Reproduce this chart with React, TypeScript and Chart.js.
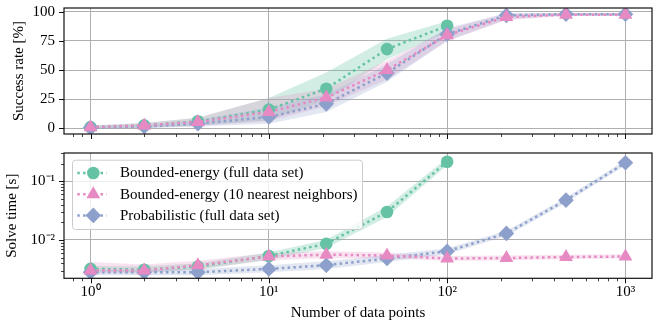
import React, { useEffect, useRef } from 'react';
import { Chart, registerables } from 'chart.js';

Chart.register(...registerables);

// ---------------- data ----------------
const xValues = [1, 2, 4, 10, 21, 46, 100, 215, 464, 1000];

const seriesNames = [
  'Bounded-energy (full data set)',
  'Bounded-energy (10 nearest neighbors)',
  'Probabilistic (full data set)',
];

// success rate [%]
const greenRate = [1, 2.5, 6, 16, 34, 68, 88];
const greenRateLo = [0, 0.5, 2.5, 7, 24, 59, 83];
const greenRateHi = [2.5, 4.5, 9, 26, 48, 77, 92];

const pinkRate = [1, 2.5, 5.5, 14, 26.5, 50, 80, 95.6, 97.6, 97.6];
const pinkRateLo = [0, 0.5, 2, 6, 19, 42, 75, 93, 96.5, 96.5];
const pinkRateHi = [2.5, 4.5, 9, 26, 34, 58, 85, 98.5, 98.7, 98.7];

const blueRate = [0.5, 1.5, 4, 9.7, 21, 47.4, 80.8, 97, 98, 98];
const blueRateLo = [0, 0, 1.5, 4, 14, 40, 75, 93.5, 97, 97];
const blueRateHi = [1.5, 3, 7, 18, 29, 55, 86, 99, 99, 99];

// solve time [s]
const greenTime = [0.0032, 0.0031, 0.0035, 0.0053, 0.0086, 0.030, 0.215];
const greenTimeLo = [0.0029, 0.0028, 0.0031, 0.0046, 0.0073, 0.0245, 0.188];
const greenTimeHi = [0.0036, 0.0035, 0.0040, 0.0061, 0.0101, 0.037, 0.25];

const pinkTime = [0.0030, 0.0030, 0.0037, 0.0052, 0.0056, 0.0054, 0.0048, 0.0049, 0.0051, 0.0052];
const pinkTimeLo = [0.0027, 0.0027, 0.0032, 0.0045, 0.0049, 0.0048, 0.0044, 0.0045, 0.0047, 0.0048];
const pinkTimeHi = [0.0042, 0.0038, 0.0044, 0.0060, 0.0064, 0.0061, 0.0053, 0.0054, 0.0056, 0.0057];

const blueTime = [0.0028, 0.0028, 0.0028, 0.0032, 0.0037, 0.0048, 0.0064, 0.0129, 0.0477, 0.207];
const blueTimeLo = [0.0025, 0.0025, 0.0025, 0.0028, 0.0032, 0.0042, 0.0057, 0.0116, 0.043, 0.188];
const blueTimeHi = [0.0031, 0.0031, 0.0032, 0.0037, 0.0043, 0.0055, 0.0072, 0.0143, 0.053, 0.228];

// ticks
const xMajorTicks = [1, 10, 100, 1000];
const xTickLabels = ['10⁰', '10¹', '10²', '10³'];
const rateTicks = [0, 25, 50, 75, 100];
const timeMajorTicks = [0.01, 0.1];
const timeTickLabels = ['10⁻²', '10⁻¹'];
const minorMultipliers = [2, 3, 4, 5, 6, 7, 8, 9];

// ---------------- style ----------------
const GREEN = '#66c2a5';
const PINK = '#e78ac3';
const BLUE = '#8da0cb';
const GRID = '#b0b0b0';
const FONT = "'Liberation Serif', 'Times New Roman', serif";
const FS = 15;

Chart.defaults.font.family = FONT;
Chart.defaults.font.size = FS;
Chart.defaults.color = '#000';

const X_MIN = 0.71, X_MAX = 1409;
const RATE_MIN = -4.9, RATE_MAX = 103.3;
const TIME_MIN = 0.00221, TIME_MAX = 0.304;

function pts(vals: number[]) {
  return vals.map((v, i) => ({ x: xValues[i], y: v }));
}

function logTickObjs(majors: number[], min: number, max: number) {
  const out: { value: number; major: boolean }[] = [];
  const decades = [majors[0] / 10, ...majors];
  decades.forEach((d) => {
    if (d >= min && d <= max && !out.find((o) => o.value === d)) out.push({ value: d, major: majors.includes(d) });
    minorMultipliers.forEach((m) => {
      const v = +(m * d).toPrecision(6);
      if (v >= min && v <= max) out.push({ value: v, major: false });
    });
  });
  out.sort((a, b) => a.value - b.value);
  return out;
}

function rgba(hex: string, a: number) {
  const n = parseInt(hex.slice(1), 16);
  return `rgba(${(n >> 16) & 255},${(n >> 8) & 255},${n & 255},${a})`;
}

function lineDs(color: string, style: string, radius: number, vals: number[], order: number) {
  return {
    data: pts(vals),
    borderColor: color,
    backgroundColor: color,
    borderWidth: 2.5,
    borderDash: [2.5, 3.3],
    borderCapStyle: 'butt',
    pointStyle: style,
    pointRadius: radius,
    pointBackgroundColor: color,
    pointBorderColor: color,
    pointBorderWidth: 0,
    fill: false,
    tension: 0,
    order,
  };
}

function bandDs(color: string, lo: number[], hi: number[], order: number, alpha: number) {
  return [
    { data: pts(lo), borderWidth: 0, pointRadius: 0, fill: false, order, borderColor: 'rgba(0,0,0,0)' },
    {
      data: pts(hi),
      borderWidth: 0,
      pointRadius: 0,
      fill: '-1',
      backgroundColor: rgba(color, alpha),
      borderColor: 'rgba(0,0,0,0)',
      order,
    },
  ];
}

// frame + tick marks
const frameTicksPlugin = {
  id: 'frameTicks',
  afterDatasetsDraw(chart: any) {
    const { ctx, chartArea: a } = chart;
    ctx.save();
    ctx.strokeStyle = '#111';
    const xs = chart.scales.x;
    xs.ticks.forEach((t: any) => {
      const px = Math.round(xs.getPixelForValue(t.value)) + 0.5;
      if (px < a.left - 0.5 || px > a.right + 0.5) return;
      const len = t.major ? 5 : 3;
      ctx.lineWidth = t.major ? 1 : 0.8;
      ctx.beginPath();
      ctx.moveTo(px, a.bottom);
      ctx.lineTo(px, a.bottom + len);
      ctx.stroke();
    });
    const ys = chart.scales.y;
    ys.ticks.forEach((t: any) => {
      const py = Math.round(ys.getPixelForValue(t.value)) + 0.5;
      if (py < a.top - 0.5 || py > a.bottom + 0.5) return;
      const len = t.major ? 5 : 3;
      ctx.lineWidth = t.major ? 1 : 0.8;
      ctx.beginPath();
      ctx.moveTo(a.left - len, py);
      ctx.lineTo(a.left, py);
      ctx.stroke();
    });
    ctx.lineWidth = 1.2;
    ctx.strokeRect(a.left, a.top, a.right - a.left, a.bottom - a.top);
    ctx.restore();
  },
};

function drawMarker(ctx: CanvasRenderingContext2D, style: string, x: number, y: number, r: number) {
  ctx.beginPath();
  if (style === 'circle') {
    ctx.arc(x, y, r, 0, Math.PI * 2);
  } else if (style === 'triangle') {
    for (let k = 0; k < 3; k++) {
      const ang = (k * 2 * Math.PI) / 3;
      const px = x + Math.sin(ang) * r;
      const py = y - Math.cos(ang) * r;
      if (k === 0) ctx.moveTo(px, py);
      else ctx.lineTo(px, py);
    }
  } else {
    ctx.moveTo(x - r, y);
    ctx.lineTo(x, y - r);
    ctx.lineTo(x + r, y);
    ctx.lineTo(x, y + r);
  }
  ctx.closePath();
  ctx.fill();
}

const legendItems = [
  { color: GREEN, style: 'circle', r: 6.3 },
  { color: PINK, style: 'triangle', r: 8 },
  { color: BLUE, style: 'rectRot', r: 7.8 },
];

const legendPlugin = {
  id: 'innerLegend',
  afterDraw(chart: any) {
    const { ctx, chartArea: a } = chart;
    const x0 = a.left + 8;
    const y0 = a.top + 6.7;
    const w = 290;
    const h = 69.3;
    ctx.save();
    ctx.beginPath();
    ctx.roundRect(x0 + 0.5, y0 + 0.5, w, h, 3);
    ctx.fillStyle = 'rgba(255,255,255,0.8)';
    ctx.fill();
    ctx.strokeStyle = '#cccccc';
    ctx.lineWidth = 1;
    ctx.stroke();
    legendItems.forEach((it, i) => {
      const cy = y0 + 13.3 + i * 21.2;
      ctx.strokeStyle = it.color;
      ctx.fillStyle = it.color;
      ctx.lineWidth = 2.5;
      ctx.setLineDash([2.5, 3.3]);
      ctx.beginPath();
      ctx.moveTo(x0 + 5.3, cy);
      ctx.lineTo(x0 + 34.7, cy);
      ctx.stroke();
      ctx.setLineDash([]);
      drawMarker(ctx, it.style, x0 + 21.3, cy, it.r);
      ctx.fillStyle = '#000';
      ctx.font = `${FS}px ${FONT}`;
      ctx.textBaseline = 'middle';
      ctx.textAlign = 'left';
      ctx.fillText(seriesNames[i], x0 + 48, cy + 0.5);
    });
    ctx.restore();
  },
};

const gridColor = (c: any) => (c.tick && c.tick.major ? GRID : 'rgba(0,0,0,0)');

function xScale(showLabels: boolean, height: number) {
  return {
    type: 'logarithmic',
    min: X_MIN,
    max: X_MAX,
    bounds: 'data',
    afterBuildTicks: (s: any) => {
      s.ticks = logTickObjs(xMajorTicks, X_MIN, X_MAX);
    },
    afterFit: (s: any) => {
      s.height = height;
      s.paddingLeft = 0;
      s.paddingRight = 0;
      s.paddingTop = 0;
      s.paddingBottom = 0;
    },
    grid: { color: gridColor, lineWidth: 1, drawTicks: false },
    border: { display: false },
    ticks: {
      display: showLabels,
      autoSkip: false,
      maxRotation: 0,
      padding: 5,
      color: '#000',
      font: { family: FONT, size: FS },
      callback: (v: number) => {
        const i = xMajorTicks.indexOf(v);
        return i >= 0 ? xTickLabels[i] : '';
      },
    },
    title: showLabels
      ? { display: true, text: 'Number of data points', color: '#000', font: { family: FONT, size: FS }, padding: { top: 0, bottom: 5 } }
      : { display: false },
  };
}

function yFit(s: any) {
  s.width = 64;
  s.paddingTop = 0;
  s.paddingBottom = 0;
  s.paddingLeft = 0;
  s.paddingRight = 0;
}

const topConfig: any = {
  type: 'line',
  data: {
    datasets: [
      lineDs(PINK, 'triangle', 8, pinkRate, 0),
      lineDs(BLUE, 'rectRot', 7.8, blueRate, 1),
      lineDs(GREEN, 'circle', 6.3, greenRate, 2),
      ...bandDs(BLUE, blueRateLo, blueRateHi, 10, 0.25),
      ...bandDs(PINK, pinkRateLo, pinkRateHi, 11, 0.25),
      ...bandDs(GREEN, greenRateLo, greenRateHi, 12, 0.3),
    ],
  },
  options: {
    responsive: false,
    maintainAspectRatio: false,
    animation: false,
    events: [],
    layout: { padding: { top: 5, right: 5, left: 0, bottom: 0 } },
    plugins: { legend: { display: false }, tooltip: { enabled: false } },
    scales: {
      x: xScale(false, 11),
      y: {
        type: 'linear',
        min: RATE_MIN,
        max: RATE_MAX,
        afterBuildTicks: (s: any) => {
          s.ticks = rateTicks.map((v) => ({ value: v, major: true }));
        },
        afterFit: yFit,
        grid: { color: gridColor, lineWidth: 1, drawTicks: false },
        border: { display: false },
        ticks: { autoSkip: false, padding: 9, color: '#000', font: { family: FONT, size: FS }, callback: (v: number) => String(v) },
        title: { display: true, text: 'Success rate [%]', color: '#000', font: { family: FONT, size: FS }, padding: { top: 10, bottom: 0 } },
      },
    },
  },
  plugins: [frameTicksPlugin],
};

const bottomConfig: any = {
  type: 'line',
  data: {
    datasets: [
      lineDs(PINK, 'triangle', 8, pinkTime, 0),
      lineDs(BLUE, 'rectRot', 7.8, blueTime, 1),
      lineDs(GREEN, 'circle', 6.3, greenTime, 2),
      ...bandDs(BLUE, blueTimeLo, blueTimeHi, 10, 0.25),
      ...bandDs(PINK, pinkTimeLo, pinkTimeHi, 11, 0.25),
      ...bandDs(GREEN, greenTimeLo, greenTimeHi, 12, 0.3),
    ],
  },
  options: {
    responsive: false,
    maintainAspectRatio: false,
    animation: false,
    events: [],
    layout: { padding: { top: 5, right: 5, left: 0, bottom: 0 } },
    plugins: { legend: { display: false }, tooltip: { enabled: false } },
    scales: {
      x: xScale(true, 48.7),
      y: {
        type: 'logarithmic',
        min: TIME_MIN,
        max: TIME_MAX,
        bounds: 'data',
        afterBuildTicks: (s: any) => {
          s.ticks = logTickObjs(timeMajorTicks, TIME_MIN, TIME_MAX);
        },
        afterFit: yFit,
        grid: { color: gridColor, lineWidth: 1, drawTicks: false },
        border: { display: false },
        ticks: {
          autoSkip: false,
          padding: 9,
          color: '#000',
          font: { family: FONT, size: FS },
          callback: (v: number) => {
            const i = timeMajorTicks.indexOf(v);
            return i >= 0 ? timeTickLabels[i] : '';
          },
        },
        title: { display: true, text: 'Solve time [s]', color: '#000', font: { family: FONT, size: FS }, padding: { top: 3, bottom: 0 } },
      },
    },
  },
  plugins: [frameTicksPlugin, legendPlugin],
};

export default function App() {
  const topRef = useRef<HTMLCanvasElement>(null);
  const botRef = useRef<HTMLCanvasElement>(null);
  useEffect(() => {
    const c1 = new Chart(topRef.current as HTMLCanvasElement, topConfig);
    const c2 = new Chart(botRef.current as HTMLCanvasElement, bottomConfig);
    return () => {
      c1.destroy();
      c2.destroy();
    };
  }, []);
  return (
    <div style={{ position: 'absolute', left: 0, top: 0, width: 660, height: 327, background: '#fff' }}>
      <canvas ref={topRef} width={660} height={145} style={{ position: 'absolute', left: 0, top: 0, display: 'block' }} />
      <canvas ref={botRef} width={660} height={182} style={{ position: 'absolute', left: 0, top: 145, display: 'block' }} />
    </div>
  );
}
